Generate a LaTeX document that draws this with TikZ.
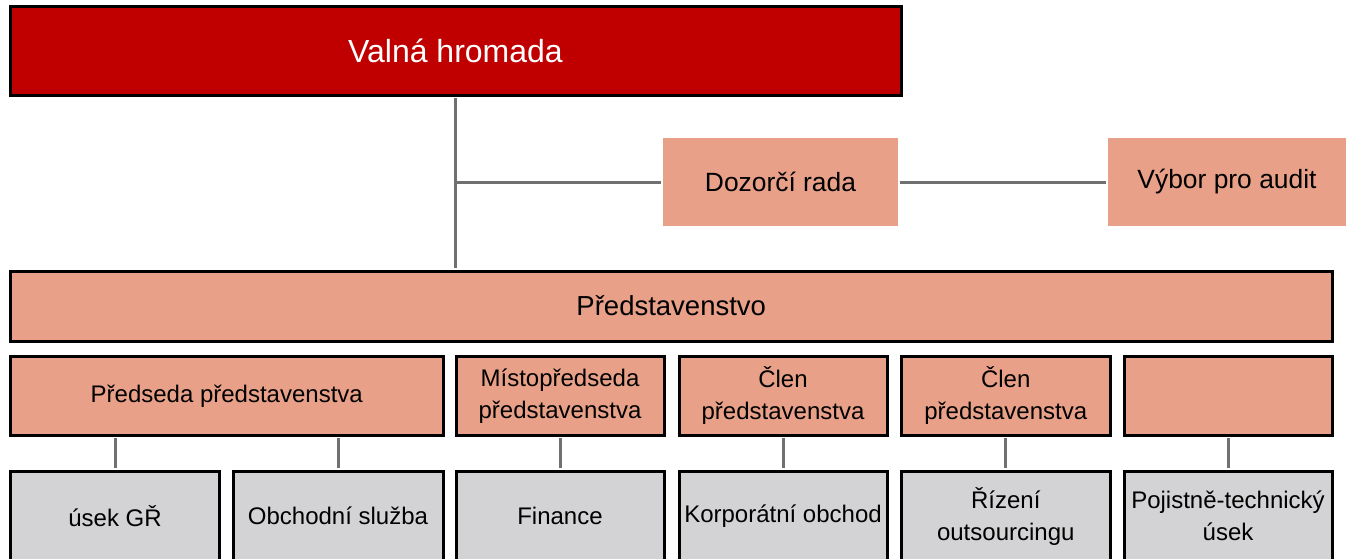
\documentclass[tikz,border=0pt]{standalone}
\usepackage{fontspec}
\setmainfont{Liberation Sans}

\definecolor{hmred}{RGB}{192,0,0}
\definecolor{salmon}{RGB}{232,161,136}
\definecolor{unitgray}{RGB}{211,211,213}
\definecolor{linegray}{RGB}{112,112,112}

\begin{document}
\begin{tikzpicture}
    [x=1pt, y=-1pt,
    toprect/.style={draw=black, line width=3pt, fill=hmred, text=white, inner sep=0pt, font=\fontsize{32}{38}\selectfont},
    siderect/.style={fill=salmon, inner sep=0pt, minimum height=88pt, font=\fontsize{26.4}{32}\selectfont},
    boardrect/.style={draw=black, line width=3pt, fill=salmon, inner sep=0pt, align=center},
    memberrect/.style={boardrect, minimum height=78.5pt, font=\fontsize{24}{32}\selectfont},
    unitrect/.style={draw=black, line width=3pt, fill=unitgray, inner sep=0pt, align=center, minimum height=90pt, font=\fontsize{24}{32}\selectfont},
    link/.style={draw=linegray, line width=3pt, shorten <=1.5pt, shorten >=1.5pt}]

    \useasboundingbox (0,0) rectangle (1349,558);

    % top level
    \node[toprect, minimum width=891pt, minimum height=88.5pt] (valna) at (455.5,50.75) {Valná hromada};

    \node[siderect, minimum width=235pt] (dozor) at (780.5,182) {Dozorčí rada};
    \node[siderect, minimum width=238pt] (vybor) at (1227,182) {Výbor pro audit};

    \node[boardrect, minimum width=1321.5pt, minimum height=70pt, font=\fontsize{27.5}{33}\selectfont] (predst) at (671.25,306) {Představenstvo};

    % members of the board
    \node[memberrect, minimum width=432.5pt] (predseda) at (226.75,395.75) {Předseda představenstva};
    \node[memberrect, minimum width=208pt] (mistopred) at (560,395.75) {Místopředseda\\představenstva};
    \node[memberrect, minimum width=208pt] (clenA) at (783,395.75) {Člen\\představenstva};
    \node[memberrect, minimum width=209.5pt] (clenB) at (1005.75,395.75) {Člen\\představenstva};
    \node[memberrect, minimum width=208pt] (clenC) at (1228,395.75) {};

    % units
    \node[unitrect, minimum width=209pt] (usekgr) at (115,516) {úsek GŘ};
    \node[unitrect, minimum width=210pt] (obchsluz) at (338,516) {Obchodní služba};
    \node[unitrect, minimum width=208pt] (finance) at (560,516) {Finance};
    \node[unitrect, minimum width=208pt] (korpobch) at (783,516) {Korporátní obchod};
    \node[unitrect, minimum width=209.5pt] (outsourc) at (1005.75,516) {Řízení\\outsourcingu};
    \node[unitrect, minimum width=208pt] (pojtech) at (1228,516) {Pojistně-technický\\úsek};

    %connectors
    \draw[link] (valna.south) -- (valna.south |- predst.north);
    \draw[link, shorten <=0pt] (valna.south |- dozor.west) -- (dozor.west);
    \draw[link] (dozor.east) -- (vybor.west);

    \draw[link] (usekgr.north |- predseda.south) -- (usekgr.north);
    \draw[link] (obchsluz.north |- predseda.south) -- (obchsluz.north);
    \draw[link] (mistopred.south) -- (finance.north);
    \draw[link] (clenA.south) -- (korpobch.north);
    \draw[link] (clenB.south) -- (outsourc.north);
    \draw[link] (clenC.south) -- (pojtech.north);
\end{tikzpicture}
\end{document}
